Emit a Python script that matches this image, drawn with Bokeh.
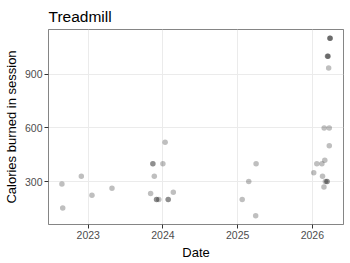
import numpy as np
import pandas as pd
from bokeh.plotting import figure
from bokeh.models import FixedTicker, Range1d
from bokeh.embed import file_html
from bokeh.resources import INLINE

title_text = "Treadmill"
dates = [
    "2022-08-25", "2022-08-29", "2022-11-28", "2023-01-19", "2023-04-27",
    "2023-11-02", "2023-11-13", "2023-11-13", "2023-11-20",
    "2023-12-01", "2023-12-01", "2023-12-12",
    "2024-01-01", "2024-01-12", "2024-01-27", "2024-01-27", "2024-02-21",
    "2025-01-23", "2025-02-24", "2025-04-01", "2025-03-30",
    "2026-01-08", "2026-01-23", "2026-02-17", "2026-02-20", "2026-02-28",
    "2026-03-03", "2026-02-27", "2026-03-06", "2026-03-14", "2026-03-14",
    "2026-03-25", "2026-03-25", "2026-03-22",
    "2026-03-16", "2026-03-18", "2026-03-19",
    "2026-03-28", "2026-03-29", "2026-03-29",
]
calories = [
    287, 153, 330, 224, 263,
    233, 400, 400, 330,
    200, 200, 200,
    400, 520, 200, 200, 240,
    200, 300, 400, 110,
    350, 400, 400, 330, 600,
    420, 270, 300, 300, 300,
    600, 500, 935,
    1000, 1000, 1000,
    1100, 1100, 1100,
]
tick_years = [2023, 2024, 2025, 2026]
y_ticks = [300, 600, 900]

x = pd.to_datetime(dates)
xs = (x - pd.Timestamp("1970-01-01")) / pd.Timedelta(milliseconds=1)
xs = np.asarray(xs, dtype=float)
ys = np.asarray(calories, dtype=float)

xpad = (xs.max() - xs.min()) * 0.05
ypad = (ys.max() - ys.min()) * 0.05
x0, x1 = xs.min() - xpad, xs.max() + xpad
y0, y1 = ys.min() - ypad, ys.max() + ypad

FONT = "Liberation Sans"

p = figure(width=350, height=263, output_backend="svg", toolbar_location=None,
           x_axis_type="datetime",
           x_range=Range1d(x0, x1),
           y_range=Range1d(y0, y1),
           min_border_left=47, min_border_right=7, min_border_top=29, min_border_bottom=39,
           title=title_text)

p.scatter(xs, ys, size=5.5, color="black", alpha=0.25, line_color=None)

year_ms = [float((pd.Timestamp(f"{yr}-01-01") - pd.Timestamp("1970-01-01")) / pd.Timedelta(milliseconds=1)) for yr in tick_years]
p.xaxis.ticker = FixedTicker(ticks=year_ms)
p.xaxis.major_label_overrides = {v: str(yr) for v, yr in zip(year_ms, tick_years)}
p.yaxis.ticker = FixedTicker(ticks=y_ticks)

p.title.text_font = FONT
p.title.text_font_size = "15.5px"
p.title.text_font_style = "normal"
p.title.text_color = "black"
p.title.align = "left"
p.title.standoff = 10

for ax in (p.xaxis[0], p.yaxis[0]):
    ax.axis_line_color = None
    ax.major_tick_line_color = "#333333"
    ax.major_tick_out = 4
    ax.major_tick_in = 0
    ax.minor_tick_line_color = None
    ax.major_label_text_font = FONT
    ax.major_label_text_font_size = "10.5px"
    ax.major_label_text_color = "#4d4d4d"
    ax.major_label_standoff = 2
    ax.axis_label_text_font = FONT
    ax.axis_label_text_font_size = "13px"
    ax.axis_label_text_font_style = "normal"
    ax.axis_label_text_color = "black"
    ax.axis_label_standoff = 3

p.xaxis.axis_label = "Date"
p.yaxis.axis_label = "Calories burned in session"

p.xgrid.grid_line_color = "#ebebeb"
p.ygrid.grid_line_color = "#ebebeb"
p.xgrid.grid_line_width = 1
p.ygrid.grid_line_width = 1

p.outline_line_color = "#333333"
p.outline_line_width = 1
p.outline_line_alpha = 0.6
p.background_fill_color = "white"
p.border_fill_color = "white"

open("out.html", "w").write(file_html(p, INLINE))
